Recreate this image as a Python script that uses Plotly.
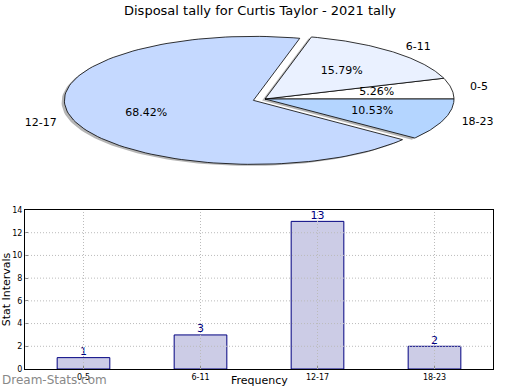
import numpy as np
import plotly.graph_objects as go

# ---- data ----
title = "Disposal tally for Curtis Taylor - 2021 tally"
categories = ["0-5", "6-11", "12-17", "18-23"]
counts = [1, 3, 13, 2]
pie_colors = ["#FFFFFF", "#EAF1FF", "#C5D9FF", "#B4D5FF"]
explode = [0.0, 0.0, 0.065, 0.0]
y_ticks = [0, 2, 4, 6, 8, 10, 12, 14]

W, H = 520, 390
fig = go.Figure()

# ---- pie (elliptical, drawn on stretched axes) ----
total = sum(counts)
fracs = [c / total for c in counts]
start = 0.0
wedges = []
for i, f in enumerate(fracs):
    a1, a2 = start, start + f * 360
    mid = np.radians((a1 + a2) / 2)
    cx, cy = explode[i] * np.cos(mid), explode[i] * np.sin(mid)
    th = np.radians(np.linspace(a1, a2, 120))
    xs = np.concatenate([[cx], cx + np.cos(th), [cx]])
    ys = np.concatenate([[cy], cy + np.sin(th), [cy]])
    wedges.append((xs, ys, mid, cx, cy))
    start = a2

# shadows
for xs, ys, mid, cx, cy in wedges:
    fig.add_trace(go.Scatter(x=xs - 0.015, y=ys - 0.025, mode="lines", fill="toself",
                             fillcolor="rgba(90,90,90,0.45)", line=dict(width=0),
                             xaxis="x2", yaxis="y2", hoverinfo="skip", showlegend=False))
# wedges
for i, (xs, ys, mid, cx, cy) in enumerate(wedges):
    fig.add_trace(go.Scatter(x=xs, y=ys, mode="lines", fill="toself",
                             fillcolor=pie_colors[i], line=dict(color="black", width=0.8),
                             xaxis="x2", yaxis="y2", hoverinfo="skip", showlegend=False))
# labels
for i, (xs, ys, mid, cx, cy) in enumerate(wedges):
    lx, ly = cx + 1.1 * np.cos(mid), cy + 1.1 * np.sin(mid)
    fig.add_trace(go.Scatter(x=[lx], y=[ly], mode="text", text=[categories[i]],
                             textposition="middle right" if lx > 0 else "middle left",
                             textfont=dict(size=11, color="black", family="DejaVu Sans"),
                             xaxis="x2", yaxis="y2", hoverinfo="skip", showlegend=False))
    px, py = cx + 0.6 * np.cos(mid), cy + 0.6 * np.sin(mid)
    fig.add_trace(go.Scatter(x=[px], y=[py], mode="text", text=["%.2f%%" % (fracs[i] * 100)],
                             textposition="middle center",
                             textfont=dict(size=11, color="black", family="DejaVu Sans"),
                             xaxis="x2", yaxis="y2", hoverinfo="skip", showlegend=False))

# ---- bar chart ----
fig.add_trace(go.Bar(x=categories, y=counts, width=0.45,
                     marker=dict(color="#CCCCE6", line=dict(color="#000080", width=1)),
                     showlegend=False, xaxis="x", yaxis="y", hoverinfo="skip"))
fig.add_trace(go.Scatter(x=categories, y=counts, mode="text",
                         text=[str(c) for c in counts], textposition="top center",
                         textfont=dict(size=11, color="#000080", family="DejaVu Sans"),
                         cliponaxis=False, showlegend=False, xaxis="x", yaxis="y",
                         hoverinfo="skip"))

# dotted grid above bars
grid_line = dict(color="#BBBBBB", width=1, dash="1px,2px")
shapes = []
for t in y_ticks[1:-1]:
    shapes.append(dict(type="line", xref="x domain", yref="y", x0=0, x1=1, y0=t, y1=t,
                       line=grid_line, layer="above"))
for c in categories:
    shapes.append(dict(type="line", xref="x", yref="y domain", x0=c, x1=c, y0=0, y1=1,
                       line=grid_line, layer="above"))

# pixel geometry of pie
pcx, pcy, rx, ry = 265, 99, 189, 64
pie_top_px = 195

fig.update_layout(
    template="none",
    width=W, height=H, margin=dict(l=0, r=0, t=0, b=0, autoexpand=False),
    paper_bgcolor="white", plot_bgcolor="white",
    font=dict(family="DejaVu Sans", color="black"),
    title=dict(text=title, x=0.5, xanchor="center", y=1 - 10 / H, yanchor="middle",
               font=dict(size=13, color="black", family="DejaVu Sans")),
    shapes=shapes,
    xaxis=dict(domain=[25 / W, 493 / W], range=[-0.5, 3.5], type="category",
               automargin=False,
               showline=True, linecolor="black", mirror=True, linewidth=1,
               ticks="inside", ticklen=3, tickcolor="#888", showgrid=False, zeroline=False,
               tickfont=dict(size=8, family="DejaVu Sans")),
    yaxis=dict(domain=[(H - 369) / H, (H - 210) / H], range=[0, 14], tickvals=y_ticks,
               automargin=False,
               showline=True, linecolor="black", mirror=True, linewidth=1,
               ticks="inside", ticklen=3, tickcolor="#888", showgrid=False, zeroline=False,
               tickfont=dict(size=8, family="DejaVu Sans"),
               title=dict(text="Stat Intervals", font=dict(size=11), standoff=4)),
    xaxis2=dict(domain=[0, 1], range=[-pcx / rx, (W - pcx) / rx], visible=False,
                automargin=False),
    yaxis2=dict(domain=[1 - pie_top_px / H, 1],
                range=[-(pie_top_px - pcy) / ry, pcy / ry], visible=False,
                automargin=False),
    annotations=[
        dict(text="Frequency", xref="x domain", yref="paper", x=0.5, y=1 / H,
             xanchor="center", yanchor="bottom", showarrow=False,
             font=dict(size=11, color="black", family="DejaVu Sans")),
        dict(text="Dream-Stats.com", xref="paper", yref="paper", x=0, y=10 / H,
             xanchor="left", yanchor="middle", showarrow=False,
             font=dict(size=12, color="#888888", family="DejaVu Sans")),
    ],
)

fig.write_html("out.html", config={"displayModeBar": False},
               post_script="document.body.style.margin='0';")
